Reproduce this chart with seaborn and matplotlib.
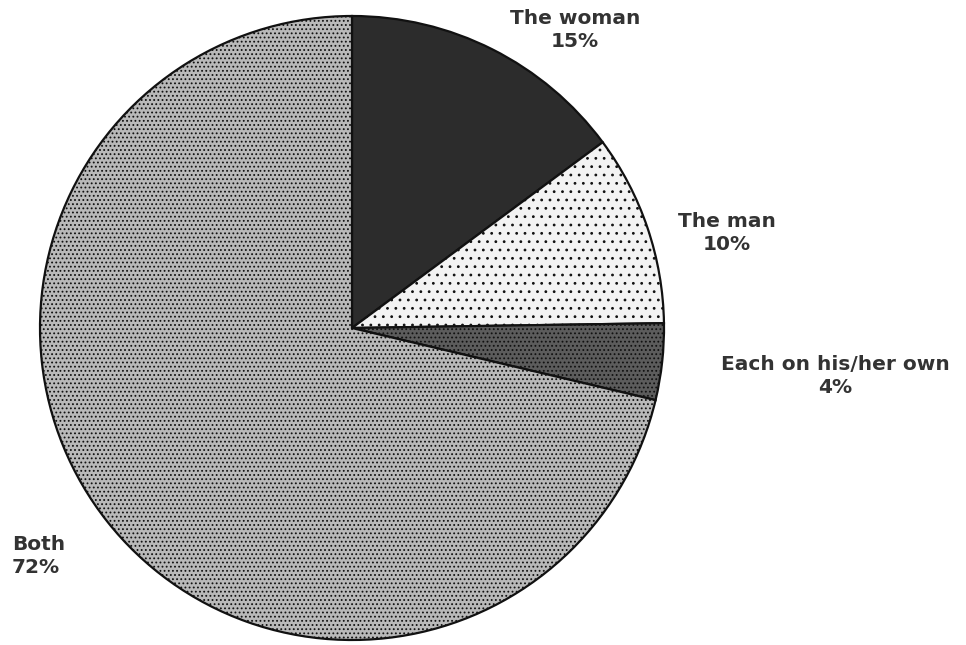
import matplotlib
matplotlib.use("Agg")
import matplotlib.pyplot as plt
import seaborn as sns

sns.set_theme(style="white")
plt.rcParams["font.family"] = ["DejaVu Sans"]
plt.rcParams["hatch.linewidth"] = 0.8

# Who does it: share of answers
categories = ["The woman", "The man", "Each on his/her own", "Both"]
shares = [15, 10, 4, 72]
labels = ["The woman\n15%", "The man\n10%", "Each on his/her own\n4%", "Both\n72%"]

fills = ["#2c2c2c", "#f3f3f3", "#5c5c5c", "#b9b9b9"]
hatches = [None, "..", "....", "...."]

fig = plt.figure(figsize=(9.66, 6.45), dpi=100)
ax = fig.add_axes([0, 0, 1, 1])

wedges, _ = ax.pie(
    shares,
    startangle=90,
    counterclock=False,
    colors=fills,
    radius=1.0,
    wedgeprops=dict(edgecolor="#111111", linewidth=1.6),
)
for w, h in zip(wedges, hatches):
    if h:
        w.set_hatch(h)

# pixel-equal scaling: 312 px per unit, centre at (352, 328)
ax.set_xlim(-352 / 312, (966 - 352) / 312)
ax.set_ylim(-(645 - 328) / 312, 328 / 312)
ax.set_aspect("auto")
ax.axis("off")

label_pos = [(0.715, 0.955, "center"), (1.202, 0.304, "center"),
             (1.548, -0.154, "center"), (-1.09, -0.731, "left")]
for text, (x, y, ha) in zip(labels, label_pos):
    ax.text(x, y, text, ha=ha, va="center", fontsize=14.5, fontweight="bold",
            color="#333333", linespacing=1.25,
            multialignment="center" if ha == "center" else "left")

fig.savefig("out.png", dpi=100, facecolor="white")
